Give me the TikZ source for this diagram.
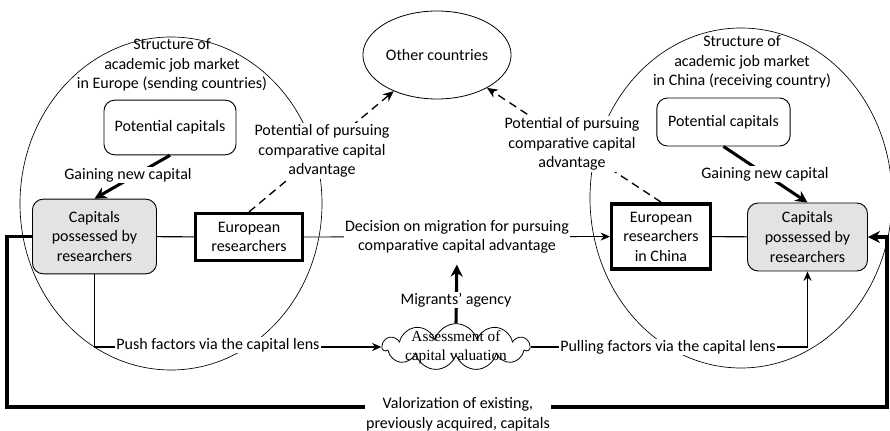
\documentclass[tikz,border=0pt]{standalone}
\usepackage{fontspec}
\setmainfont{Carlito}
\newfontfamily\cloudfont{Liberation Serif}
\usetikzlibrary{shapes.geometric,shapes.symbols,arrows.meta}

\begin{document}
\begin{tikzpicture}[x=0.75pt,y=-0.75pt]
	\tikzset{
		txt/.style={align=center, font=\fontsize{12}{14.65}\selectfont, inner sep=1pt},
		lbl/.style={txt, fill=white},
		potbox/.style={txt, draw, line width=0.7pt, rounded corners=8pt},
		capbox/.style={txt, draw, line width=0.7pt, rounded corners=8pt, fill=gray!22},
		resbox/.style={txt, draw, line width=2.6pt},
		thickarrow/.style={line width=2.3pt, -{Stealth[length=9pt,width=9pt]}},
		thinarrow/.style={line width=1pt, -{Stealth[length=7pt,width=6pt]}},
		dasharrow/.style={line width=1pt, dash pattern=on 6pt off 4pt, -{Stealth[length=8pt,width=7pt]}},
		valorline/.style={line width=2.3pt, line join=miter, -{Stealth[length=9pt,width=9pt]}},
	}
	\useasboundingbox (0,0) rectangle (890,431);

	% job markets
	\draw[line width=0.5pt] (171,203.5) ellipse [x radius=151, y radius=166.5];
	\draw[line width=0.5pt] (741,198) ellipse [x radius=151, y radius=170];

	\node[txt] (StrEU) at (172,65) {Structure of\\academic job market\\in Europe (sending countries)};
	\node[txt] (StrCN) at (742,62) {Structure of\\academic job market\\in China (receiving country)};

	% boxes
	\node[txt, draw, line width=0.6pt, ellipse, minimum width=97pt, minimum height=66pt] (Other) at (437,55) {Other countries};
	\node[potbox, minimum width=99pt, minimum height=41pt] (PotEU) at (170,127.5) {Potential capitals};
	\node[potbox, minimum width=100pt, minimum height=36pt] (PotCN) at (723.5,122) {Potential capitals};
	\node[capbox, minimum width=93pt, minimum height=56pt] (CapEU) at (94.5,236.5) {Capitals\\possessed by\\researchers};
	\node[capbox, minimum width=90pt, minimum height=51pt] (CapCN) at (807.5,237) {Capitals\\possessed by\\researchers};
	\node[resbox, minimum width=80pt, minimum height=35pt] (ResEU) at (249,237) {European\\researchers};
	\node[resbox, minimum width=74pt, minimum height=49pt] (ResCN) at (661,236.5) {European\\researchers\\in China};
	\node[draw, line width=0.6pt, cloud, cloud puffs=11, aspect=3.1, minimum width=110pt, minimum height=35pt, inner sep=0pt] (Assess) at (456,347) {};
	\node[align=center, inner sep=0pt, font=\cloudfont\fontsize{11.5}{14}\selectfont] (AssessTxt) at (Assess.center) {Assessment of\\capital valuation};

	% connectors
	\draw[thickarrow] (PotEU.south) -- (CapEU.north);
	\draw[thickarrow] (PotCN.south) -- (CapCN.north);
	\draw[dasharrow] (ResEU.north) -- (Other);
	\draw[dasharrow] (ResCN.north) -- (Other);
	\draw[line width=0.8pt] (CapEU) -- (ResEU);
	\draw[line width=0.8pt] (ResCN) -- (CapCN);
	\draw[line width=0.6pt, -{Stealth[length=7pt,width=6pt]}] (ResEU) -- (ResCN);
	\draw[thinarrow] (CapEU.south) |- (Assess.west);
	\draw[thinarrow] (Assess.east) -| (CapCN.south);

	\coordinate (LoopL) at (7,407);
	\coordinate (LoopR) at (887,407);
	\draw[valorline] (CapEU.west) -| (LoopL) -- (LoopR) |- (CapCN.east);

	% labels
	\node[lbl] (GainEU) at (128,175) {Gaining new capital};
	\node[lbl] (GainCN) at (765,174) {Gaining new capital};
	\node[lbl] (PursueEU) at (322,151) {Potential of pursuing\\comparative capital\\advantage};
	\node[lbl] (PursueCN) at (572,144) {Potential of pursuing\\comparative capital\\advantage};
	\node[lbl] (Decision) at (457,237) {Decision on migration for pursuing\\comparative capital advantage};
	\draw[thickarrow, shorten >=7pt] (Assess.north) -- (Decision.south);
	\node[lbl] (Agency) at (456,300) {Migrants' agency};
	\node[lbl] (Push) at (218,345) {Push factors via the capital lens};
	\node[lbl] (Pull) at (668,347) {Pulling factors via the capital lens};
	\node[lbl] (Valor) at (458,414) {Valorization of existing,\\previously acquired, capitals};
\end{tikzpicture}
\end{document}
